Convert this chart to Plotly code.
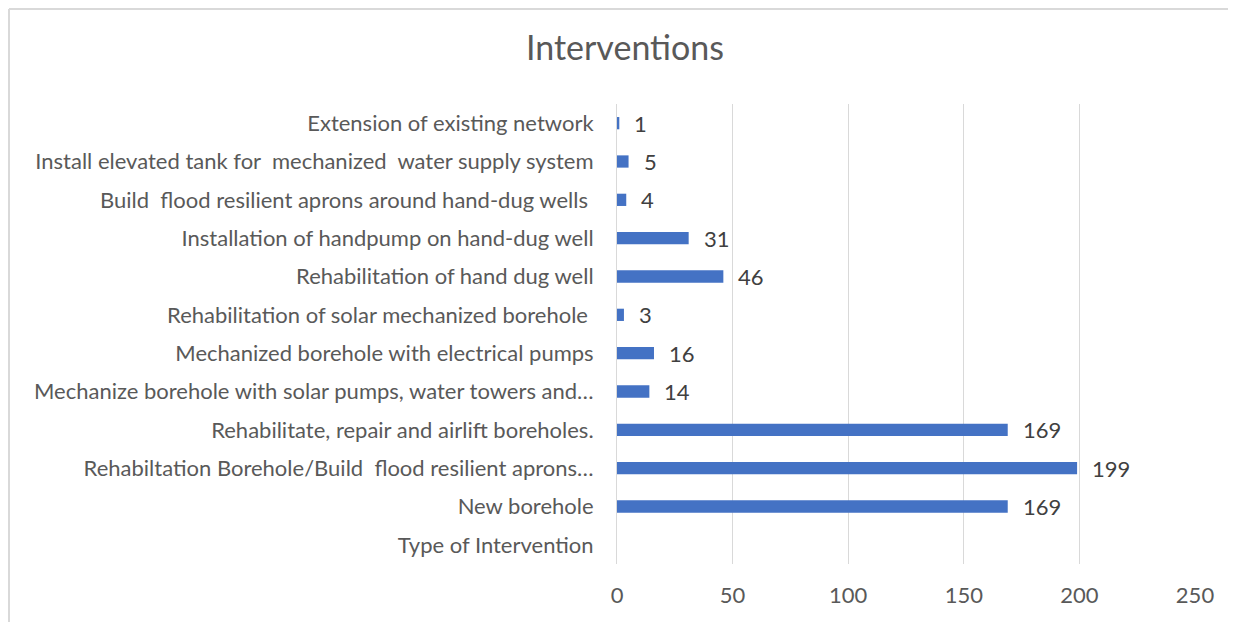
import plotly.graph_objects as go

categories = [
    "Type of Intervention",
    "New borehole",
    "Rehabiltation Borehole/Build  flood resilient aprons…",
    "Rehabilitate, repair and airlift boreholes.",
    "Mechanize borehole with solar pumps, water towers and…",
    "Mechanized borehole with electrical pumps",
    "Rehabilitation of solar mechanized borehole\u00a0",
    "Rehabilitation of hand dug well",
    "Installation of handpump on hand-dug well",
    "Build  flood resilient aprons around hand-dug wells\u00a0",
    "Install elevated tank for  mechanized  water supply system",
    "Extension of existing network",
]
values = [None, 169, 199, 169, 14, 16, 3, 46, 31, 4, 5, 1]
x_ticks = [0, 50, 100, 150, 200, 250]

# page has an 8px body margin; figure coordinates are page coordinates - 8
OFF = 8
W, H = 1236 - OFF, 622 - OFF
ml, mt = 617 - OFF, 104 - OFF
mr = W - (1195 - OFF)
mb = H - (564 - OFF)

FONT = "Lato"

fig = go.Figure(go.Bar(
    y=categories, x=values, orientation="h",
    marker=dict(color="#4472C4", line=dict(width=0)),
    width=0.32,
    hoverinfo="x+y",
))

for c, v in zip(categories, values):
    if v is None:
        continue
    fig.add_annotation(x=v, y=c, xref="x", yref="y", text=str(v),
                       showarrow=False, xanchor="left", yanchor="middle",
                       xshift=13, font=dict(size=22, color="#404040", family=FONT))

pw = W - ml - mr
ph = H - mt - mb
def px2paper_x(px):
    return (px - OFF - ml) / pw
def px2paper_y(py):
    return 1 - (py - OFF - mt) / ph

fig.update_layout(
    width=W, height=H,
    margin=dict(l=ml, r=mr, t=mt, b=mb, pad=0),
    paper_bgcolor="white", plot_bgcolor="white",
    font=dict(family=FONT, color="#595959", size=22),
    title=dict(text="Interventions", x=(625 - OFF) / W, xanchor="center",
               y=1 - (48 - OFF) / H, yanchor="middle",
               font=dict(size=34, color="#595959", family=FONT)),
    showlegend=False,
    xaxis=dict(range=[0, 250], tickvals=x_ticks, showgrid=True,
               gridcolor="#d9d9d9", gridwidth=1, zeroline=False,
               showline=False, ticks="", tickfont=dict(size=22, color="#595959"),
               ticklabelstandoff=16, fixedrange=True),
    yaxis=dict(type="category", categoryorder="array", categoryarray=categories,
               showline=True, linecolor="#d9d9d9", linewidth=1, ticks="",
               showgrid=False, tickfont=dict(size=22, color="#595959"),
               ticklabelstandoff=18, fixedrange=True),
    shapes=[
        dict(type="line", xref="paper", yref="paper",
             x0=px2paper_x(9), x1=px2paper_x(1240), y0=px2paper_y(9), y1=px2paper_y(9),
             line=dict(color="#d9d9d9", width=2)),
        dict(type="line", xref="paper", yref="paper",
             x0=px2paper_x(9), x1=px2paper_x(9), y0=px2paper_y(9), y1=px2paper_y(640),
             line=dict(color="#d9d9d9", width=2)),
    ],
)

fig.write_html("out.html")
